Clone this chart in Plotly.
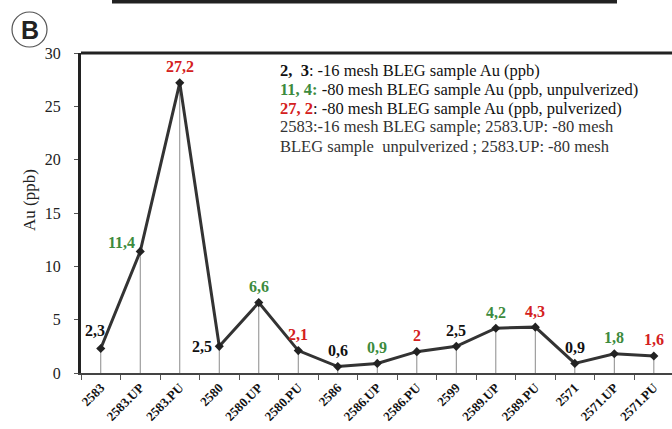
import plotly.graph_objects as go

# Sample identifiers along the traverse
samples = ["2583", "2583.UP", "2583.PU", "2580", "2580.UP", "2580.PU",
           "2586", "2586.UP", "2586.PU", "2599", "2589.UP", "2589.PU",
           "2571", "2571.UP", "2571.PU"]
# Au content (ppb)
au_ppb = [2.3, 11.4, 27.2, 2.5, 6.6, 2.1, 0.6, 0.9, 2.0, 2.5, 4.2, 4.3, 0.9, 1.8, 1.6]
y_ticks = [0, 5, 10, 15, 20, 25, 30]

BLACK = "#111111"
GREEN = "#3d8b3d"
RED = "#d42020"
SERIF = "Liberation Serif, Times New Roman, serif"


def label_color(name):
    if name.endswith(".UP"):
        return GREEN
    if name.endswith(".PU"):
        return RED
    return BLACK


def fmt(v):
    return ("%g" % v).replace(".", ",")


fig = go.Figure()

# thin vertical drop lines from each sample down to zero
drop_x, drop_y = [], []
for s, v in zip(samples, au_ppb):
    drop_x += [s, s, None]
    drop_y += [0, v, None]
fig.add_trace(go.Scatter(x=drop_x, y=drop_y, mode="lines",
                         line=dict(color="#8a8a8a", width=1),
                         hoverinfo="skip", showlegend=False))

fig.add_trace(go.Scatter(x=samples, y=au_ppb, mode="lines+markers",
                         line=dict(color="#333333", width=3),
                         marker=dict(symbol="diamond", size=7, color="#222222"),
                         showlegend=False))

# value labels, mostly centred above each point (x given as category index)
offsets = {0: (-6, 18), 1: (-19, 9), 3: (-17, 0)}
annotations = []
for i, (s, v) in enumerate(zip(samples, au_ppb)):
    dx, dy = offsets.get(i, (0, 16))
    annotations.append(dict(x=i, y=v, xref="x", yref="y", text="<b>%s</b>" % fmt(v),
                            showarrow=False, xshift=dx, yshift=dy,
                            xanchor="center", yanchor="middle",
                            font=dict(family=SERIF, size=16, color=label_color(s))))

L, T, B = 81, 53, 56
H, W = 429, 672
PW, PH = W - L, H - T - B


def px(xp):
    return (xp - L) / PW


def py(yp):
    return (H - B - yp) / PH


# explanatory text block
legend_lines = [
    ("<b>2,  3</b>: -16 mesh BLEG sample Au (ppb)", BLACK, 70),
    ("<b><span style='color:%s'>11, 4:</span></b> -80 mesh BLEG sample Au (ppb, unpulverized)" % GREEN, BLACK, 89),
    ("<b><span style='color:%s'>27, 2</span></b>: -80 mesh BLEG sample Au (ppb, pulverized)" % RED, BLACK, 108),
    ("2583:-16 mesh BLEG sample; 2583.UP: -80 mesh", "#333333", 127),
    ("BLEG sample  unpulverized ; 2583.UP: -80 mesh", "#333333", 146),
]
for text, col, yp in legend_lines:
    annotations.append(dict(x=px(278), y=py(yp), xref="paper", yref="paper",
                            xanchor="left", yanchor="middle", text=text, showarrow=False,
                            font=dict(family=SERIF, size=16.5, color=col)))

annotations.append(dict(x=px(29), y=py(200), xref="paper", yref="paper", text="Au (ppb)",
                        textangle=-90, showarrow=False, xanchor="center", yanchor="middle",
                        font=dict(family=SERIF, size=17, color="#222222")))
annotations.append(dict(x=px(30), y=py(30), xref="paper", yref="paper", text="<b>B</b>",
                        showarrow=False, xanchor="center", yanchor="middle",
                        font=dict(family="Liberation Sans, Arial, sans-serif", size=25, color="#222222")))

shapes = [
    # frame top line
    dict(type="line", xref="paper", yref="paper", x0=0, x1=1, y0=1, y1=1,
         line=dict(color="#222222", width=3)),
    # panel letter circle
    dict(type="circle", xref="paper", yref="paper", x0=px(12), x1=px(47),
         y0=py(47), y1=py(12), line=dict(color="#555555", width=1.2)),
    # heavy rule at the top of the panel
    dict(type="line", xref="paper", yref="paper", x0=px(112), x1=px(617),
         y0=py(1.5), y1=py(1.5), line=dict(color="#222222", width=4)),
]

fig.update_layout(
    width=W, height=H,
    margin=dict(l=L, r=0, t=T, b=B),
    paper_bgcolor="white", plot_bgcolor="white",
    annotations=annotations, shapes=shapes,
    xaxis=dict(type="category", range=[-0.5, 14.46], tickangle=-45,
               tickson="boundaries", ticks="outside", ticklen=5, tickcolor="#555555",
               showline=True, linecolor="#444444", linewidth=2, showgrid=False,
               tickfont=dict(family=SERIF, size=13, color="#111111"),
               tickprefix="<b>", ticksuffix="</b>"),
    yaxis=dict(range=[0, 30], tickvals=y_ticks, ticks="outside", ticklen=4,
               tickcolor="#555555", showline=True, linecolor="#222222", linewidth=3,
               showgrid=False, zeroline=False, ticklabelstandoff=10,
               tickfont=dict(family=SERIF, size=16, color="#222222")),
)

fig.write_html("out.html")
